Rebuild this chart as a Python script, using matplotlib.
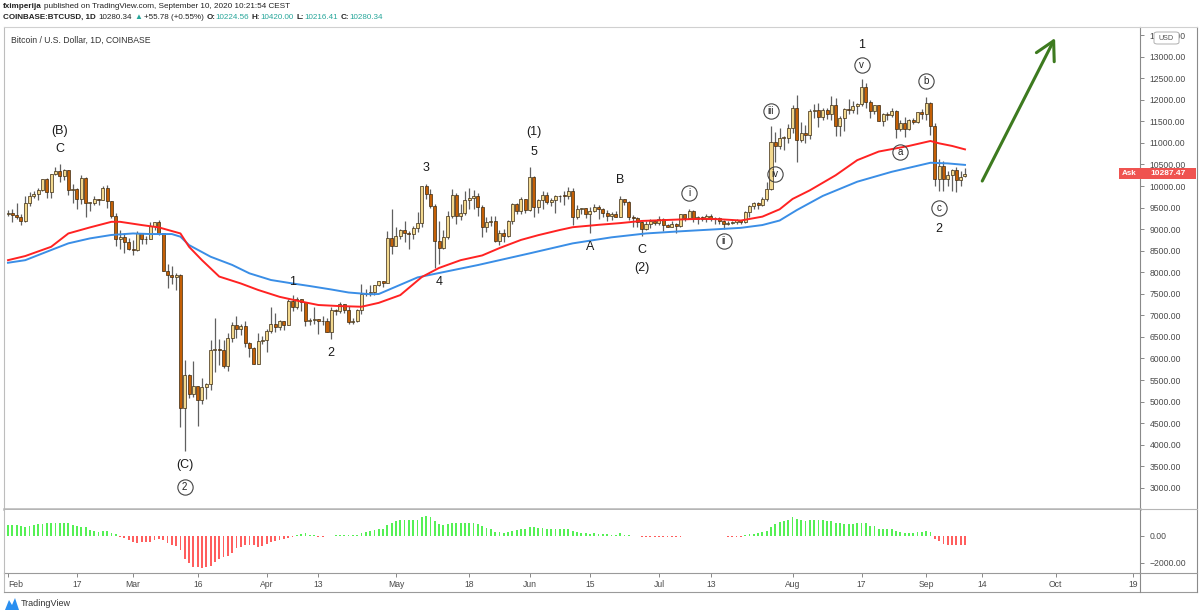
import numpy as np
import pandas as pd
import matplotlib
matplotlib.use("Agg")
import matplotlib.pyplot as plt
import matplotlib.transforms as mtransforms
from matplotlib.lines import Line2D
from matplotlib.patches import Rectangle, FancyBboxPatch, Polygon

plt.rcParams['font.family'] = ['Liberation Sans', 'DejaVu Sans']

W, H = 1200, 616
start = pd.Timestamp('2020-02-01')

# daily candles, Feb 1 .. Sep 10 2020 (one line per month)
opens = [
    9350, 9385, 9335, 9290, 9180, 9615, 9760, 9805, 9910, 10160, 9855, 10270, 10350, 10240, 10370, 9905, 9935, 9700, 10180, 9600, 9610, 9690, 9665, 9960, 9650, 9300, 8780, 8810, 8710,
    8530, 8520, 8910, 8760, 8760, 9070, 9160, 8900, 8030, 7935, 7895, 7935, 4860, 5620, 5170, 5360, 5030, 5330, 5410, 6190, 6200, 6190, 5830, 6480, 6770, 6690, 6760, 6370, 6250, 5880, 6400,
    6420, 6640, 6800, 6740, 6860, 6780, 7340, 7200, 7370, 7300, 6870, 6890, 6910, 6860, 6870, 6620, 7120, 7100, 7260, 7130, 6850, 6860, 7130, 7490, 7510, 7540, 7700, 7790, 7760, 8790,
    8620, 8830, 8970, 8900, 8880, 9030, 9150, 9990, 9810, 9540, 8720, 8560, 8810, 9310, 9790, 9310, 9380, 9670, 9730, 9770, 9520, 9060, 9170, 9180, 8720, 8900, 8840, 9200, 9580, 9420, 9700,
    9450, 10200, 9520, 9670, 9790, 9620, 9670, 9760, 9780, 9770, 9880, 9270, 9470, 9480, 9340, 9430, 9520, 9460, 9380, 9300, 9360, 9290, 9690, 9630, 9290, 9250, 9160, 9010, 9110, 9190,
    9140, 9230, 9090, 9060, 9130, 9080, 9340, 9250, 9430, 9230, 9290, 9240, 9300, 9240, 9250, 9190, 9130, 9150, 9170, 9210, 9160, 9390, 9540, 9610, 9550, 9710, 9930, 11030, 10920, 11110, 11120,
    11350, 11800, 11070, 11230, 11190, 11750, 11770, 11600, 11760, 11680, 11880, 11400, 11580, 11780, 11770, 11860, 11910, 12290, 11960, 11740, 11870, 11520, 11680, 11650, 11750, 11330, 11460, 11320, 11540, 11480, 11710,
    11660, 11920, 11400, 10170, 10470, 10170, 10260, 10370, 10130, 10225,
]
highs = [
    9455, 9470, 9610, 9345, 9760, 9860, 9880, 9950, 10160, 10180, 10290, 10450, 10520, 10390, 10380, 10050, 9955, 10250, 10200, 9640, 9760, 9710, 9990, 10020, 9660, 9370, 8980, 8900, 8800,
    8750, 8960, 8920, 8840, 9170, 9170, 9215, 8900, 8190, 8150, 7975, 7965, 5970, 5650, 5940, 5370, 5550, 5420, 6420, 6950, 6460, 6420, 6590, 6850, 6990, 6790, 6880, 6390, 6270, 6600, 6530,
    6680, 7200, 7050, 6900, 6880, 7370, 7470, 7420, 7380, 7310, 6950, 7200, 6910, 6980, 6930, 7190, 7150, 7300, 7260, 7220, 6950, 7150, 7720, 7610, 7700, 7710, 7800, 7790, 8960, 9460,
    9050, 9010, 9200, 8960, 9070, 9400, 10000, 10040, 9920, 9580, 9180, 8980, 9410, 9940, 9840, 9590, 9880, 9950, 9900, 9830, 9560, 9270, 9310, 9300, 8980, 9010, 9220, 9610, 9610, 9740, 9700,
    10430, 10230, 9690, 9880, 9850, 9730, 9800, 9800, 9880, 9980, 9950, 9560, 9490, 9490, 9520, 9580, 9550, 9480, 9440, 9400, 9420, 9780, 9700, 9660, 9330, 9280, 9190, 9190, 9230, 9200,
    9300, 9260, 9130, 9190, 9140, 9360, 9360, 9460, 9440, 9310, 9300, 9340, 9340, 9280, 9270, 9210, 9180, 9190, 9240, 9220, 9420, 9550, 9630, 9640, 9740, 10100, 11400, 11250, 11340, 11170, 11450,
    11870, 12120, 11480, 11420, 11790, 11910, 11920, 11810, 11800, 12080, 12050, 11620, 11800, 12030, 11980, 11930, 12480, 12400, 11990, 11880, 11890, 11690, 11710, 11820, 11760, 11540, 11590, 11550, 11580, 11720, 11780,
    12070, 11950, 11460, 10630, 10570, 10360, 10400, 10440, 10350, 10420,
]
lows = [
    9300, 9160, 9225, 9085, 9160, 9540, 9720, 9670, 9880, 9730, 9720, 10255, 10100, 10130, 9800, 9610, 9460, 9590, 9290, 9430, 9570, 9570, 9665, 9500, 9260, 8600, 8530, 8450, 8520,
    8410, 8500, 8660, 8660, 8760, 8990, 8870, 8020, 7630, 7730, 7590, 4410, 3860, 5080, 5100, 4440, 4950, 5050, 5280, 5680, 5850, 5770, 5700, 6380, 6470, 6540, 6270, 6030, 5870, 5860, 6340,
    6160, 6590, 6620, 6670, 6670, 6780, 7100, 7150, 7110, 6760, 6780, 6810, 6560, 6780, 6620, 6460, 7010, 7060, 7050, 6790, 6800, 6840, 7030, 7460, 7450, 7480, 7670, 7650, 7740, 8430,
    8620, 8770, 8700, 8540, 8780, 8940, 9040, 9710, 9500, 8110, 8200, 8540, 8780, 9260, 9130, 9220, 9330, 9470, 9470, 9300, 8810, 8940, 9080, 8700, 8640, 8700, 8810, 9110, 9340, 9350, 9380,
    9420, 9270, 9380, 9460, 9580, 9530, 9380, 9640, 9570, 9690, 9100, 9240, 9350, 9250, 8920, 9390, 9240, 9290, 9200, 9220, 9280, 9280, 9570, 9210, 9060, 9040, 8840, 8970, 9020, 9090,
    9090, 8950, 9040, 9050, 8900, 9060, 9200, 9230, 9160, 9110, 9200, 9170, 9200, 9110, 9130, 9000, 9090, 9120, 9120, 9130, 9150, 9290, 9460, 9470, 9540, 9650, 9910, 10560, 10870, 10840, 10990,
    11230, 10560, 11020, 11000, 11100, 11580, 11370, 11540, 11550, 11540, 11150, 11160, 11280, 11680, 11690, 11680, 11850, 11820, 11580, 11680, 11520, 11390, 11530, 11590, 11120, 11270, 11140, 11290, 11440, 11460, 11550,
    11530, 11190, 10000, 9880, 9880, 9990, 9880, 9850, 10000, 10216,
]
closes = [
    9385, 9335, 9290, 9180, 9615, 9760, 9805, 9910, 10160, 9855, 10270, 10350, 10240, 10370, 9905, 9935, 9700, 10180, 9600, 9610, 9690, 9665, 9960, 9650, 9300, 8780, 8810, 8710, 8530,
    8520, 8910, 8760, 8760, 9070, 9160, 8900, 8030, 7935, 7895, 7935, 4860, 5620, 5170, 5360, 5030, 5330, 5410, 6190, 6200, 6190, 5830, 6480, 6770, 6690, 6760, 6370, 6250, 5880, 6400, 6420,
    6640, 6800, 6740, 6860, 6780, 7340, 7200, 7370, 7300, 6870, 6890, 6910, 6860, 6870, 6620, 7120, 7100, 7260, 7130, 6850, 6860, 7130, 7490, 7510, 7540, 7700, 7790, 7760, 8790, 8620,
    8830, 8970, 8900, 8880, 9030, 9150, 9990, 9810, 9540, 8720, 8560, 8810, 9310, 9790, 9310, 9380, 9670, 9730, 9770, 9520, 9060, 9170, 9180, 8720, 8900, 8840, 9200, 9580, 9420, 9700, 9450,
    10200, 9520, 9670, 9790, 9620, 9670, 9760, 9780, 9770, 9880, 9270, 9470, 9480, 9340, 9430, 9520, 9460, 9380, 9300, 9360, 9290, 9690, 9630, 9290, 9250, 9160, 9010, 9110, 9190, 9140,
    9230, 9090, 9060, 9130, 9080, 9340, 9250, 9430, 9230, 9290, 9240, 9300, 9240, 9250, 9190, 9130, 9150, 9170, 9210, 9160, 9390, 9540, 9610, 9550, 9710, 9930, 11030, 10920, 11110, 11120, 11350,
    11800, 11070, 11230, 11190, 11750, 11770, 11600, 11760, 11680, 11880, 11400, 11580, 11780, 11770, 11860, 11910, 12290, 11960, 11740, 11870, 11520, 11680, 11650, 11750, 11330, 11460, 11320, 11540, 11480, 11710, 11660,
    11920, 11400, 10170, 10470, 10170, 10260, 10370, 10130, 10220, 10280,
]

# oscillator histogram (lower pane), one bar per day
osc = [
    800, 825, 825, 750, 675, 725, 825, 875, 925, 975,
    950, 975, 1000, 1000, 975, 850, 750, 675, 650, 475,
    375, 300, 350, 350, 250, 150, -50, -175, -300, -425,
    -550, -450, -475, -475, -325, -250, -300, -500, -675, -775,
    -1025, -1725, -2000, -2300, -2350, -2425, -2350, -2250, -1975, -1700,
    -1550, -1475, -1275, -925, -825, -675, -700, -675, -800, -750,
    -600, -475, -400, -325, -225, -175, -50, 50, 175, 225,
    100, 50, -50, -50, -25, -25, 50, 75, 50, 50,
    50, 100, 200, 300, 350, 450, 500, 550, 850, 975,
    1100, 1175, 1175, 1175, 1175, 1175, 1425, 1475, 1450, 1150,
    875, 825, 900, 1000, 950, 950, 1000, 1000, 1000, 925,
    725, 575, 550, 325, 300, 225, 325, 400, 450, 550,
    550, 700, 650, 625, 575, 550, 550, 550, 550, 500,
    550, 350, 300, 250, 200, 150, 200, 150, 125, 125,
    100, 100, 200, 75, 50, 0, -25, -75, -75, -75,
    -75, -100, -100, -100, -100, -75, -50, 25, 25, 25,
    25, 25, 25, -25, -25, -25, -25, -50, -50, -50,
    -50, 50, 150, 175, 225, 300, 400, 675, 900, 1050,
    1150, 1200, 1400, 1275, 1200, 1100, 1225, 1225, 1200, 1200,
    1150, 1150, 975, 950, 925, 925, 925, 950, 1000, 950,
    775, 775, 550, 525, 525, 525, 350, 300, 250, 200,
    250, 275, 275, 375, 275, -225, -350, -600, -650, -650,
    -700, -650, -650,
]

# moving averages (day index, price)
ma_red_days = [0, 4, 10, 14, 19, 24, 26, 31, 35, 40, 42, 45, 49, 54, 58, 63, 68, 72, 77, 82, 86, 91, 96,
               100, 105, 110, 114, 119, 123, 128, 131, 137, 142, 147, 151, 156, 161, 165, 170, 175, 179,
               182, 186, 192, 197, 202, 209, 214, 216, 219, 222]
ma_red_vals = [8280, 8376, 8590, 8900, 9040, 9170, 9170, 9095, 9040, 8900, 8590, 8280, 7900, 7740, 7590, 7430, 7320, 7240, 7215, 7200, 7290, 7470, 7890,
               8100, 8280, 8390, 8560, 8750, 8860, 8980, 9045, 9100, 9140, 9190, 9205, 9225, 9240, 9230, 9200, 9290, 9460,
               9700, 9900, 10250, 10600, 10800, 10930, 11045, 10990, 10930, 10850]
ma_blue_days = [0, 4, 10, 14, 19, 24, 29, 33, 38, 40, 42, 47, 52, 56, 61, 66, 70, 75, 79, 84, 86, 95,
                109, 121, 131, 140, 148, 156, 164, 170, 175, 179, 183, 189, 197, 205, 211, 214, 218, 222]
ma_blue_vals = [8220, 8280, 8515, 8670, 8785, 8865, 8900, 8886, 8886, 8825, 8630, 8360, 8170, 7975, 7820, 7740, 7680, 7600, 7530, 7490, 7495, 7880,
                8167, 8438, 8670, 8810, 8900, 8950, 8995, 9030, 9095, 9200, 9443, 9770, 10100, 10330, 10470, 10540, 10525, 10490]

# Elliott wave labels: (text, date, price, circled)
wave_labels = [
    ("(B)", "2020-02-13", 11276, False), ("C", "2020-02-13", 10859, False),
    ("(C)", "2020-03-13", 3527, False), ("2", "2020-03-13", 3017, True),
    ("1", "2020-04-07", 7773, False), ("2", "2020-04-16", 6126, False),
    ("3", "2020-05-08", 10418, False), ("4", "2020-05-11", 7773, False),
    ("(1)", "2020-06-02", 11253, False), ("5", "2020-06-02", 10789, False),
    ("A", "2020-06-15", 8585, False), ("B", "2020-06-22", 10139, False),
    ("C", "2020-06-27", 8516, False), ("(2)", "2020-06-27", 8098, False),
    ("i", "2020-07-08", 9838, True), ("ii", "2020-07-16", 8725, True),
    ("iii", "2020-07-27", 11740, True), ("iv", "2020-07-28", 10278, True),
    ("1", "2020-08-17", 13271, False), ("v", "2020-08-17", 12807, True),
    ("a", "2020-08-26", 10789, True), ("b", "2020-09-01", 12436, True),
    ("c", "2020-09-04", 9490, True), ("2", "2020-09-04", 9003, False),
]

tick_dates = ["2020-02-01", "2020-02-17", "2020-03-01", "2020-03-16", "2020-04-01", "2020-04-13",
              "2020-05-01", "2020-05-18", "2020-06-01", "2020-06-15", "2020-07-01", "2020-07-13",
              "2020-08-01", "2020-08-17", "2020-09-01", "2020-09-14", "2020-10-01", "2020-10-19"]
tick_labels = ["Feb", "17", "Mar", "16", "Apr", "13", "May", "18", "Jun", "15", "Jul", "13",
               "Aug", "17", "Sep", "14", "Oct", "19"]
price_ticks = list(range(3000, 14000, 500))
ask_price = 10287.47


def day(s):
    return (pd.Timestamp(s) - start).days


def fx(x):
    return x / W


def fy(y):
    return 1 - y / H


days = np.arange(len(closes))
o = np.array(opens, float)
c = np.array(closes, float)
hi = np.array(highs, float)
lo = np.array(lows, float)

fig = plt.figure(figsize=(12, 6.16), dpi=100)
fig.patch.set_facecolor('white')

# main price pane: x 4..1140 px, y 27..509 px
ax = fig.add_axes([fx(4), fy(509), fx(1136), (509 - 27) / H])
ax.set_xlim(-0.93, 262.6)
ax.set_ylim(2508, 13689)

up = c >= o
ax.vlines(days, lo, hi, color='#606060', lw=0.9, zorder=2)
body_bottom = np.minimum(o, c)
body_h = np.maximum(np.abs(c - o), 18)
ax.bar(days, body_h, bottom=body_bottom, width=0.7,
       color=np.where(up, '#F2D88E', '#C45F05'), edgecolor='#3b2a12', linewidth=0.5, zorder=3)

ax.plot(ma_blue_days, ma_blue_vals, color='#3A8EE6', lw=1.4, zorder=4)
ax.plot(ma_red_days, ma_red_vals, color='#FF2222', lw=1.4, zorder=4)

for txt, dt, p, circ in wave_labels:
    d = day(dt)
    if circ:
        ax.plot(d, p, 'o', ms=11, mfc='none', mec='#444444', mew=0.8, zorder=6)
        ax.text(d, p, txt, ha='center', va='center', fontsize=7, color='#222222', zorder=6)
    else:
        ax.text(d, p, txt, ha='center', va='center', fontsize=9, color='#1a1a1a', zorder=6)

# projected move
ax.annotate('', xy=(242.9, 13434), xytext=(226, 10116),
            arrowprops=dict(arrowstyle='->,head_length=1.1,head_width=0.6', color='#3d7a1f',
                            lw=2.2, mutation_scale=12, shrinkA=0, shrinkB=0), zorder=7)

ax.yaxis.tick_right()
ax.set_yticks(price_ticks)
ax.set_yticklabels(['%.2f' % v for v in price_ticks])
ax.tick_params(axis='y', length=3, width=0.7, color='#888888', pad=4, labelsize=6.2, labelcolor='#4a4a4a')
ax.tick_params(axis='x', length=0, labelbottom=False)
ax.spines['top'].set_color('#d0d0d0')
ax.spines['left'].set_color('#bdbdbd')
ax.spines['right'].set_color('#8a8a8a')
ax.spines['bottom'].set_color('#b5b5b5')
ax.spines['bottom'].set_linewidth(1.8)
for s in ('top', 'left', 'right'):
    ax.spines[s].set_linewidth(0.8)

ax.text(0.006, 0.972, 'Bitcoin / U.S. Dollar, 1D, COINBASE', transform=ax.transAxes,
        fontsize=6.2, color='#333333', va='center', ha='left')

# Ask price label on the price scale
blend = mtransforms.blended_transform_factory(ax.transAxes, ax.transData)
box_h = 260
ax.add_patch(Rectangle((1 - 21 / 1136, ask_price - box_h / 2), 21 / 1136, box_h, transform=blend,
                       facecolor='#ef5350', edgecolor='none', clip_on=False, zorder=8))
ax.add_patch(Rectangle((1.0, ask_price - box_h / 2), 56 / 1136, box_h, transform=blend,
                       facecolor='#ef5350', edgecolor='none', clip_on=False, zorder=8))
ax.text(1 - 10.5 / 1136, ask_price, 'Ask', transform=blend, ha='center', va='center',
        fontsize=5.8, color='white', weight='bold', zorder=9, clip_on=False)
ax.text(1 + 28 / 1136, ask_price, '%.2f' % ask_price, transform=blend, ha='center', va='center',
        fontsize=6.0, color='white', weight='bold', zorder=9, clip_on=False)

# oscillator pane: y 510..573 px
ax2 = fig.add_axes([fx(4), fy(573), fx(1136), (573 - 510) / H], sharex=ax)
ax2.set_ylim(-2771, 1947)
osc_arr = np.array(osc, float)
ax2.bar(days, osc_arr, width=0.42, color=np.where(osc_arr >= 0, '#55F055', '#FF5E5E'), linewidth=0)
ax2.yaxis.tick_right()
ax2.set_yticks([0, -2000])
ax2.set_yticklabels(['0.00', '\u22122000.00'])
ax2.tick_params(axis='y', length=3, width=0.7, color='#888888', pad=4, labelsize=6.2, labelcolor='#4a4a4a')
ax2.set_xticks([day(t) for t in tick_dates])
ax2.set_xticklabels(tick_labels)
ax2.get_xticklabels()[0].set_ha('left')
ax2.tick_params(axis='x', length=3, width=0.7, color='#888888', pad=2, labelsize=6.2, labelcolor='#4a4a4a')
ax2.spines['top'].set_visible(False)
ax2.spines['left'].set_color('#bdbdbd')
ax2.spines['right'].set_color('#8a8a8a')
ax2.spines['bottom'].set_color('#9a9a9a')
for s in ('left', 'right', 'bottom'):
    ax2.spines[s].set_linewidth(0.8)

# frame around the date strip and the price scale column
lines = [
    ((4, 4), (573, 592), '#bdbdbd'),
    ((4, 1197), (592, 592), '#9a9a9a'),
    ((1140, 1140), (573, 592), '#8a8a8a'),
    ((1197, 1197), (27, 592), '#8a8a8a'),
    ((1140, 1197), (27, 27), '#d0d0d0'),
    ((1140, 1197), (509, 509), '#b5b5b5'),
    ((1140, 1197), (573, 573), '#9a9a9a'),
]
for xs, ys, col in lines:
    fig.add_artist(Line2D([fx(xs[0]), fx(xs[1])], [fy(ys[0]), fy(ys[1])], color=col, lw=0.8))

# currency box over the top of the scale
fig.add_artist(FancyBboxPatch((fx(1154), fy(44)), fx(25), 12 / H, boxstyle='round,pad=0,rounding_size=0.003',
                              facecolor='white', edgecolor='#b0b0b0', lw=0.7, zorder=10))
fig.text(fx(1166.5), fy(38), 'USD', ha='center', va='center', fontsize=5.2, color='#555555', zorder=11)

# header, pieces laid out one after another
teal = '#26a69a'
dark = '#222222'
renderer = fig.canvas.get_renderer()


def text_row(y, pieces, size=5.9):
    x = 3
    for s, col, wt, gap in pieces:
        t = fig.text(fx(x), fy(y), s, fontsize=size, color=col, weight=wt, va='center')
        x += t.get_window_extent(renderer=renderer).width + gap


text_row(7, [('fximperija', dark, 'bold', 2.5),
             ('published on TradingView.com, September 10, 2020 10:21:54 CEST', dark, 'normal', 0)])
text_row(17.5, [('COINBASE:BTCUSD, 1D', dark, 'bold', 3),
                ('10280.34', dark, 'normal', 2),
                ('\u25b2', teal, 'normal', 2),
                ('+55.78 (+0.55%)', dark, 'normal', 2.5),
                ('O:', dark, 'bold', 0.5), ('10224.56', teal, 'normal', 2.5),
                ('H:', dark, 'bold', 0.5), ('10420.00', teal, 'normal', 2.5),
                ('L:', dark, 'bold', 0.5), ('10216.41', teal, 'normal', 2.5),
                ('C:', dark, 'bold', 0.5), ('10280.34', teal, 'normal', 0)], size=5.8)

# footer logo
fig.add_artist(Polygon([(fx(5), fy(610)), (fx(9), fy(600)), (fx(12), fy(605)), (fx(15), fy(598)),
                        (fx(19), fy(610))], closed=True, facecolor='#2a8ff0', edgecolor='none'))
fig.text(fx(21), fy(604), 'TradingView', fontsize=6.5, color='#333333', va='center')

fig.savefig('out.png', dpi=100, facecolor='white')
